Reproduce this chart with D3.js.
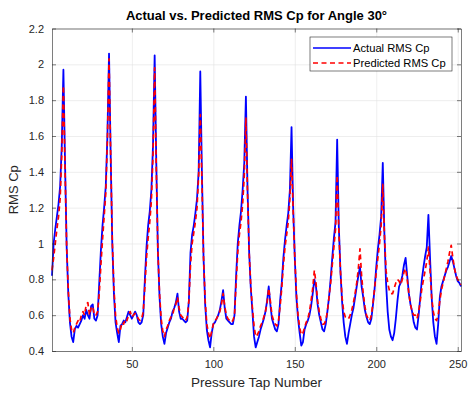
<!DOCTYPE html>
<html>
<head>
<meta charset="utf-8">
<script src="https://cdn.jsdelivr.net/npm/d3@7"></script>
<style>
  body { margin: 0; background: #fff; }
  svg { display: block; font-family: "Liberation Sans", Arial, sans-serif; }
</style>
</head>
<body>
<svg id="chart" width="468" height="394"></svg>
<script>
// RMS Cp per pressure tap (taps 1..252, 28 taps per row)
const actualRmsCp = [
  0.82,1.00,1.08,1.15,1.22,1.32,1.55,1.97,1.45,0.98,0.72,0.56,0.48,0.45,0.52,0.54,0.53,0.55,0.57,0.60,0.58,0.63,0.60,0.58,0.65,0.66,0.58,0.57,
  0.60,0.78,0.96,1.10,1.20,1.32,1.60,2.06,1.50,1.00,0.72,0.56,0.50,0.45,0.54,0.55,0.57,0.56,0.59,0.62,0.60,0.58,0.60,0.62,0.60,0.56,0.55,0.56,
  0.60,0.80,0.98,1.10,1.18,1.30,1.55,2.05,1.45,0.95,0.70,0.55,0.48,0.44,0.50,0.53,0.56,0.58,0.62,0.64,0.67,0.72,0.62,0.58,0.58,0.57,0.56,0.57,
  0.68,0.95,1.05,1.10,1.17,1.25,1.40,1.96,1.40,0.92,0.66,0.52,0.46,0.42,0.50,0.55,0.56,0.58,0.60,0.63,0.68,0.74,0.64,0.58,0.57,0.56,0.55,0.55,
  0.60,0.82,1.00,1.10,1.18,1.30,1.45,1.82,1.30,0.95,0.75,0.62,0.48,0.42,0.45,0.48,0.52,0.55,0.58,0.62,0.68,0.76,0.66,0.58,0.55,0.52,0.51,0.55,
  0.68,0.78,0.92,1.02,1.10,1.17,1.30,1.65,1.20,0.92,0.70,0.58,0.50,0.43,0.45,0.52,0.55,0.57,0.60,0.65,0.72,0.80,0.76,0.66,0.60,0.56,0.52,0.51,
  0.55,0.62,0.70,0.80,0.92,1.03,1.12,1.58,1.10,0.85,0.68,0.56,0.48,0.44,0.50,0.55,0.60,0.64,0.70,0.76,0.82,0.87,0.76,0.70,0.63,0.59,0.56,0.55,
  0.58,0.66,0.75,0.87,0.97,1.05,1.15,1.45,1.05,0.78,0.62,0.52,0.48,0.46,0.50,0.58,0.68,0.76,0.78,0.82,0.88,0.92,0.82,0.72,0.66,0.62,0.56,0.53,
  0.52,0.60,0.70,0.80,0.87,0.93,0.98,1.16,0.92,0.70,0.56,0.48,0.44,0.55,0.70,0.76,0.79,0.82,0.85,0.87,0.90,0.93,0.90,0.86,0.82,0.79,0.78,0.76
];
const predictedRmsCp = [
  0.85,0.92,1.00,1.08,1.15,1.25,1.50,1.88,1.42,0.98,0.74,0.58,0.52,0.50,0.53,0.55,0.57,0.56,0.60,0.62,0.60,0.66,0.67,0.60,0.64,0.65,0.60,0.60,
  0.62,0.72,0.88,1.02,1.15,1.28,1.58,2.03,1.50,1.02,0.75,0.60,0.53,0.50,0.52,0.56,0.55,0.58,0.57,0.60,0.62,0.59,0.60,0.61,0.60,0.58,0.57,0.58,
  0.62,0.76,0.92,1.03,1.12,1.24,1.50,1.98,1.42,0.95,0.72,0.58,0.51,0.48,0.52,0.54,0.57,0.59,0.60,0.64,0.66,0.70,0.64,0.60,0.59,0.58,0.57,0.59,
  0.68,0.88,1.00,1.06,1.12,1.20,1.38,1.72,1.35,0.92,0.68,0.55,0.50,0.47,0.51,0.55,0.57,0.58,0.60,0.62,0.66,0.72,0.65,0.60,0.58,0.57,0.56,0.57,
  0.60,0.78,0.95,1.05,1.12,1.22,1.38,1.70,1.28,0.95,0.76,0.64,0.54,0.48,0.49,0.51,0.54,0.56,0.59,0.62,0.67,0.75,0.68,0.60,0.57,0.55,0.54,0.57,
  0.65,0.75,0.88,0.98,1.05,1.12,1.25,1.47,1.18,0.92,0.72,0.60,0.53,0.49,0.50,0.53,0.56,0.58,0.62,0.68,0.75,0.85,0.78,0.68,0.62,0.58,0.55,0.55,
  0.57,0.62,0.70,0.78,0.88,0.98,1.08,1.38,1.08,0.85,0.70,0.62,0.59,0.58,0.58,0.60,0.63,0.67,0.72,0.78,0.86,0.97,0.82,0.72,0.65,0.60,0.58,0.57,
  0.60,0.67,0.75,0.84,0.92,1.00,1.10,1.33,1.05,0.85,0.78,0.74,0.72,0.72,0.75,0.78,0.80,0.79,0.77,0.80,0.84,0.86,0.80,0.72,0.66,0.62,0.60,0.60,
  0.58,0.62,0.68,0.75,0.80,0.85,0.90,0.98,0.85,0.70,0.62,0.58,0.57,0.60,0.68,0.74,0.78,0.82,0.86,0.90,0.95,0.99,0.92,0.86,0.82,0.80,0.78,0.77
];
const xTickValues = [50, 100, 150, 200, 250];
const yTickValues = [0.4, 0.6, 0.8, 1, 1.2, 1.4, 1.6, 1.8, 2, 2.2];
const seriesNames = ['Actual RMS Cp', 'Predicted RMS Cp'];
const seriesColors = ['#0000ff', '#ff0000'];

const plot = { left: 52, right: 461, top: 28.5, bottom: 351 };
const axisColor = '#262626';

const svg = d3.select('#chart');

const x = d3.scaleLinear().domain([1, actualRmsCp.length]).range([plot.left, plot.right]);
const y = d3.scaleLinear().domain([0.4, 2.2]).range([plot.bottom, plot.top]);

// grid
svg.append('g')
  .attr('transform', 'translate(0,' + plot.bottom + ')')
  .call(d3.axisBottom(x).tickValues(xTickValues).tickSize(-(plot.bottom - plot.top)).tickFormat(''))
  .call(g => g.select('.domain').remove())
  .call(g => g.selectAll('line').attr('stroke', '#e3e3e3').attr('stroke-width', 0.6));
svg.append('g')
  .attr('transform', 'translate(' + plot.left + ',0)')
  .call(d3.axisLeft(y).tickValues(yTickValues).tickSize(-(plot.right - plot.left)).tickFormat(''))
  .call(g => g.select('.domain').remove())
  .call(g => g.selectAll('line').attr('stroke', '#e3e3e3').attr('stroke-width', 0.6));

// series
const line = d3.line().x((d, i) => x(i + 1)).y(d => y(d));

svg.append('path')
  .datum(actualRmsCp)
  .attr('d', line)
  .attr('fill', 'none')
  .attr('stroke', seriesColors[0])
  .attr('stroke-width', 1.8)
  .attr('stroke-linejoin', 'round');

svg.append('path')
  .datum(predictedRmsCp)
  .attr('d', line)
  .attr('fill', 'none')
  .attr('stroke', seriesColors[1])
  .attr('stroke-width', 1.7)
  .attr('stroke-dasharray', '5,3.5')
  .attr('stroke-linejoin', 'round');

// axes, MATLAB style (ticks inside, box)
function styleAxis(g) {
  g.select('.domain').attr('stroke', axisColor).attr('stroke-width', 0.6);
  g.selectAll('.tick line').attr('stroke', axisColor).attr('stroke-width', 0.6);
  g.selectAll('.tick text').attr('fill', axisColor).style('font-size', '11px');
}

svg.append('g')
  .attr('transform', 'translate(0,' + plot.bottom + ')')
  .call(d3.axisBottom(x).tickValues(xTickValues).tickSizeInner(-4).tickSizeOuter(0).tickPadding(9))
  .call(styleAxis);
svg.append('g')
  .attr('transform', 'translate(0,' + plot.top + ')')
  .call(d3.axisTop(x).tickValues(xTickValues).tickSizeInner(-4).tickSizeOuter(0).tickFormat(''))
  .call(styleAxis);
svg.append('g')
  .attr('transform', 'translate(' + plot.left + ',0)')
  .call(d3.axisLeft(y).tickValues(yTickValues).tickSizeInner(-4).tickSizeOuter(0).tickPadding(8).tickFormat(d3.format('~g')))
  .call(styleAxis);
svg.append('g')
  .attr('transform', 'translate(' + plot.right + ',0)')
  .call(d3.axisRight(y).tickValues(yTickValues).tickSizeInner(-4).tickSizeOuter(0).tickFormat(''))
  .call(styleAxis);

// labels
svg.append('text')
  .attr('x', (plot.left + plot.right) / 2)
  .attr('y', 19.5)
  .attr('text-anchor', 'middle')
  .attr('fill', '#000')
  .style('font-size', '13px')
  .style('font-weight', 'bold')
  .text('Actual vs. Predicted RMS Cp for Angle 30°');

svg.append('text')
  .attr('x', (plot.left + plot.right) / 2)
  .attr('y', 387)
  .attr('text-anchor', 'middle')
  .attr('fill', axisColor)
  .style('font-size', '13.5px')
  .text('Pressure Tap Number');

svg.append('text')
  .attr('transform', 'translate(18,' + (plot.top + plot.bottom) / 2 + ') rotate(-90)')
  .attr('text-anchor', 'middle')
  .attr('fill', axisColor)
  .style('font-size', '13px')
  .text('RMS Cp');

// legend
const legend = svg.append('g').attr('transform', 'translate(310,37)');
legend.append('rect')
  .attr('width', 142).attr('height', 34)
  .attr('fill', '#fff')
  .attr('stroke', axisColor)
  .attr('stroke-width', 0.6);

const rows = legend.selectAll('g.row')
  .data(seriesNames)
  .enter()
  .append('g')
  .attr('class', 'row')
  .attr('transform', (d, i) => 'translate(0,' + (11 + i * 15) + ')');

rows.append('line')
  .attr('x1', 3).attr('x2', 41)
  .attr('stroke', (d, i) => seriesColors[i])
  .attr('stroke-width', 1.7)
  .attr('stroke-dasharray', (d, i) => i === 1 ? '5,3.5' : null);

rows.append('text')
  .attr('x', 43)
  .attr('dy', '0.35em')
  .attr('fill', '#000')
  .style('font-size', '11.2px')
  .text(d => d);
</script>
</body>
</html>
